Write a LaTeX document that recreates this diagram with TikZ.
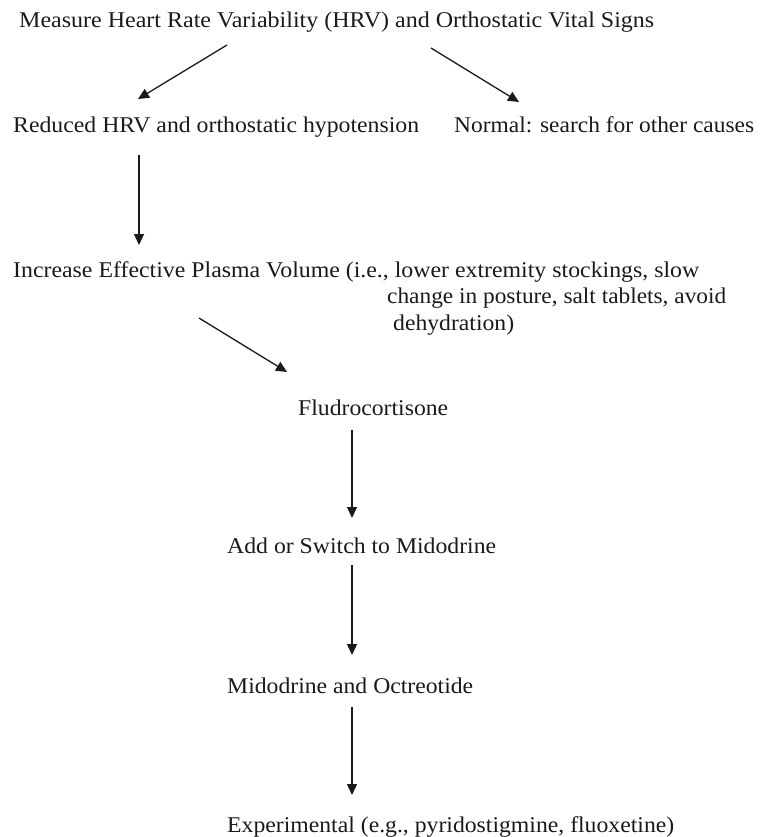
\documentclass[tikz,border=0pt]{standalone}
\usepackage{fontspec}
\usepackage{graphicx}
\setmainfont{Liberation Serif}
\usetikzlibrary{arrows.meta}
\definecolor{ink}{HTML}{1A1A1A}
\newcommand{\fit}[2]{\resizebox{#1pt}{\height}{#2}}
\tikzset{
  lbl/.style={anchor=base west, inner sep=0pt, text=ink, font=\fontsize{22.5}{26}\selectfont},
  arr/.style={draw=ink, line width=1.3pt, -{Triangle[length=11pt,width=10pt]}}
}
\begin{document}
\begin{tikzpicture}[x=1pt,y=-1pt]
\useasboundingbox (0,0) rectangle (772,837);
\node[lbl] (title) at (19,28) {\fit{635}{Measure Heart Rate Variability (HRV) and Orthostatic Vital Signs}};
\node[lbl] (reduced) at (13,133) {\fit{406}{Reduced HRV and orthostatic hypotension}};
\node[lbl] (normal) at (454,133) {\fit{300}{Normal: search for other causes}};
\node[lbl] (increase) at (13,277) {\fit{686}{Increase Effective Plasma Volume (i.e., lower extremity stockings, slow}};
\node[lbl] (change) at (387,303) {\fit{339}{change in posture, salt tablets, avoid}};
\node[lbl] (dehyd) at (393,330) {\fit{121}{dehydration)}};
\node[lbl] (fludro) at (298,415) {\fit{150}{Fludrocortisone}};
\node[lbl] (add) at (227,553) {\fit{269}{Add or Switch to Midodrine}};
\node[lbl] (mido) at (227,693) {\fit{246}{Midodrine and Octreotide}};
\node[lbl] (exp) at (227,832) {\fit{447}{Experimental (e.g., pyridostigmine, fluoxetine)}};

\draw[arr] ([shift={(208,17)}]title.base west) -- ([shift={(125,-34)}]reduced.base west);
\draw[arr] ([shift={(412,20)}]title.base west) -- ([shift={(65,-31)}]normal.base west);
\draw[arr] ([shift={(126,22)}]reduced.base west) -- ([shift={(126,-32)}]increase.base west);
\draw[arr] ([shift={(186,41)}]increase.base west) -- ([shift={(-11,-43)}]fludro.base west);
\draw[arr] ([shift={(54,15)}]fludro.base west) -- ([shift={(125,-35)}]add.base west);
\draw[arr] ([shift={(125,12)}]add.base west) -- ([shift={(125,-38)}]mido.base west);
\draw[arr] ([shift={(125,14)}]mido.base west) -- ([shift={(125,-37)}]exp.base west);
\end{tikzpicture}
\end{document}
